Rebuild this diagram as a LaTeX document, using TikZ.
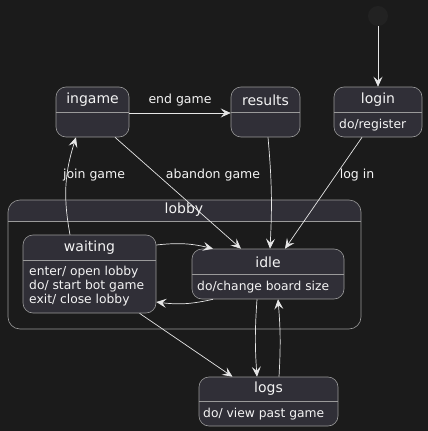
\documentclass[tikz,border=0pt]{standalone}
\usepackage{fontspec}
\setmainfont{DejaVu Sans}
\usetikzlibrary{arrows.meta, positioning, calc}
\definecolor{bgdark}{HTML}{1B1B1B}
\definecolor{stfill}{HTML}{302F37}
\definecolor{stline}{HTML}{9A9A9A}
\definecolor{arrowc}{HTML}{E6E6E6}
\definecolor{txtc}{HTML}{F4F4F4}
\definecolor{initc}{HTML}{222222}

\begin{document}
\begin{tikzpicture}[
    x=1pt, y=-1pt,
    statebox/.style={
        draw=stline,
        fill=stfill,
        rounded corners=10pt,
        line width=0.6pt,
        inner sep=0pt
    },
    groupbox/.style={
        draw=stline,
        rounded corners=12pt,
        line width=0.6pt,
        inner sep=0pt
    },
    sepline/.style={draw=stline, line width=0.6pt},
    title/.style={text=txtc, font=\fontsize{14}{16}\selectfont, inner sep=0pt},
    body/.style={text=txtc, font=\fontsize{12.3}{14}\selectfont, inner sep=0pt,
        anchor=west, align=left},
    elabel/.style={text=txtc, font=\fontsize{12.5}{14}\selectfont, inner sep=0pt},
    trans/.style={draw=arrowc, line width=0.7pt,
        -{Stealth[length=10pt, width=9pt, inset=4pt]}},
    initst/.style={circle, fill=initc, minimum size=20pt, inner sep=0pt}
]

\fill[bgdark] (0,0) rectangle (428,431);
\useasboundingbox (0,0) rectangle (428,431);

% ------------------------------------------------------------
% lobby group
% ------------------------------------------------------------
\begin{scope}
    \clip[rounded corners=12pt] (8,200) rectangle (361,329);
    \fill[stfill] (8,200) rectangle (361,221);
\end{scope}
\node[groupbox, minimum width=353pt, minimum height=129pt] (lobby) at (184.5,264.5) {};
\draw[sepline] (8,221) -- (361,221);
\node[title] (lobbyT) at (184,210) {lobby};

% ------------------------------------------------------------
% states
% ------------------------------------------------------------
\node[initst] (start) at (378,16) {};

% login
\node[statebox, minimum width=88pt, minimum height=50pt] (login) at (378,112) {};
\draw[sepline] ($(login.north west)+(0,26)$) -- ($(login.north east)+(0,26)$);
\node[title] (loginT) at (378,100) {login};
\node[body] (loginB) at (339,125) {do/register};

% results
\node[statebox, minimum width=69pt, minimum height=50pt] (results) at (265.5,112) {};
\draw[sepline] ($(results.north west)+(0,26)$) -- ($(results.north east)+(0,26)$);
\node[title] (resultsT) at (265.5,100) {results};

% ingame
\node[statebox, minimum width=73pt, minimum height=50pt] (ingame) at (92.5,112) {};
\draw[sepline] ($(ingame.north west)+(0,26)$) -- ($(ingame.north east)+(0,26)$);
\node[title] (ingameT) at (92.5,100) {ingame};

% waiting
\node[statebox, minimum width=133pt, minimum height=78pt] (waiting) at (89.5,274) {};
\draw[sepline] ($(waiting.north west)+(0,26)$) -- ($(waiting.north east)+(0,26)$);
\node[title] (waitingT) at (89.5,248) {waiting};
\node[body] (waitingB) at (29,286) {enter/ open lobby\\do/ start bot game\\exit/ close lobby};

% idle
\node[statebox, minimum width=152pt, minimum height=50pt] (idle) at (268,274) {};
\draw[sepline] ($(idle.north west)+(0,26)$) -- ($(idle.north east)+(0,26)$);
\node[title] (idleT) at (268,262) {idle};
\node[body] (idleB) at (197,287) {do/change board size};

% logs
\node[statebox, minimum width=139pt, minimum height=49pt] (logs) at (268.5,401.5) {};
\draw[sepline] ($(logs.north west)+(0,25)$) -- ($(logs.north east)+(0,25)$);
\node[title] (logsT) at (268.5,389) {logs};
\node[body] (logsB) at (203,414) {do/ view past game};

% ------------------------------------------------------------
% transitions
% ------------------------------------------------------------
\draw[trans] (start) -- (login);
\draw[trans] (ingame.east |- 0,113) -- (results.west |- 0,113);
\node[elabel] (lEnd) at (180,100) {end game};

\draw[trans] ([xshift=-19.5pt]waiting.north) to[bend left=14] ([xshift=-16.5pt]ingame.south);
\node[elabel] (lJoin) at (94,175) {join game};

\draw[trans] ([xshift=22.5pt]ingame.south) -- ([xshift=-27pt]idle.north);
\node[elabel] (lAband) at (213,175) {abandon game};

\draw[trans] ([xshift=2.5pt]results.south) to[bend left=4] ([xshift=2pt]idle.north);

\draw[trans] ([xshift=-16pt]login.south) -- ([xshift=17pt]idle.north);
\node[elabel] (lLog) at (357,175) {log in};

\draw[trans] ([yshift=29pt]waiting.east) to[bend left=10] ([xshift=-55pt]idle.north);
\draw[trans] ([xshift=-55pt]idle.south) to[bend left=10] ([yshift=-28pt]waiting.east);

\draw[trans] ([xshift=50pt]waiting.south) -- ([xshift=-36pt]logs.north);

\draw[trans] ([xshift=-11pt]idle.south) to[bend right=4] ([xshift=-11.5pt]logs.north);
\draw[trans] ([xshift=10.5pt]logs.north) to[bend right=4] ([xshift=10pt]idle.south);

\end{tikzpicture}
\end{document}
